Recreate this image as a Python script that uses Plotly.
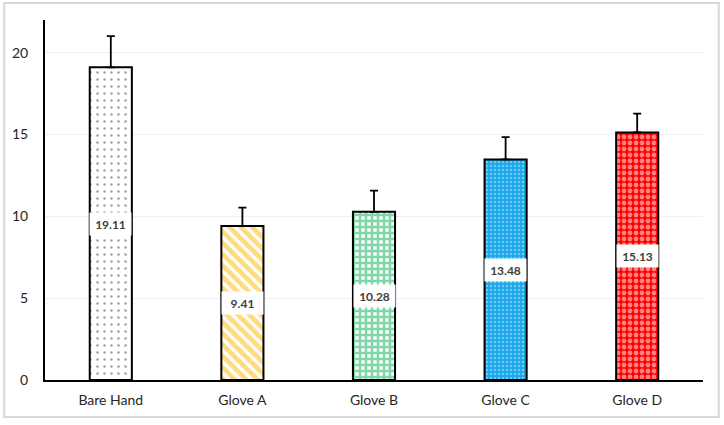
"""Bar chart with error bars and patterned fills"""
import plotly.graph_objects as go

categories = ['Bare Hand', 'Glove A', 'Glove B', 'Glove C', 'Glove D']
means = [19.11, 9.41, 10.28, 13.48, 15.13]
errors = [1.9, 1.12, 1.29, 1.36, 1.15]
labels = ['19.11', '9.41', '10.28', '13.48', '15.13']

# fill style per bar (pattern shape, fg colour, bg colour, size, solidity)
patterns = [
    dict(shape='.', fgcolor='#404040', bgcolor='white', size=7, solidity=0.1),
    dict(shape='\\', fgcolor='#FFB800', bgcolor='white', size=8, solidity=0.6),
    dict(shape='+', fgcolor='#00B050', bgcolor='white', size=6, solidity=0.65),
    dict(shape='.', fgcolor='#c8ecff', bgcolor='#1AA7EC', size=4, solidity=0.3),
    dict(shape='.', fgcolor='white', bgcolor='#FF0000', size=6, solidity=0.5),
]

fig = go.Figure()

for cat, m, e, p in zip(categories, means, errors, patterns):
    fig.add_trace(go.Bar(
        x=[cat], y=[m],
        marker=dict(color=p['bgcolor'],
                    line=dict(color='black', width=2),
                    pattern=dict(shape=p['shape'], fgcolor=p['fgcolor'],
                                 bgcolor=p['bgcolor'], size=p['size'],
                                 solidity=p['solidity'], fillmode='overlay')),
        error_y=dict(type='data', symmetric=False, array=[e], arrayminus=[0],
                     color='black', thickness=1.8, width=4),
        showlegend=False,
    ))

# value labels in white boxes at the middle of each bar
for cat, m, lab in zip(categories, means, labels):
    fig.add_annotation(
        x=cat, y=m / 2, text=f"<b>{lab}</b>", showarrow=False,
        font=dict(size=12, color='#404040', family='Lato'),
        bgcolor='white', width=39, height=20, borderpad=1,
    )

# light frame around the whole picture
fig.add_shape(type='rect', xref='paper', yref='paper',
              x0=-0.062, x1=1.024, y0=-0.103, y1=1.047,
              line=dict(color='#d9d9d9', width=2))

fig.update_layout(
    width=724, height=425,
    margin=dict(l=45, r=21, t=20, b=45),
    plot_bgcolor='white', paper_bgcolor='white',
    bargap=0.68,
    font=dict(family='Lato', size=14, color='#262626'),
)
fig.update_xaxes(showline=True, linecolor='black', linewidth=2,
                 ticks='', showgrid=False, ticklabelstandoff=6)
fig.update_yaxes(range=[0, 22], tickvals=[0, 5, 10, 15, 20],
                 showline=True, linecolor='black', linewidth=2,
                 showgrid=True, gridcolor='#efefef', gridwidth=1,
                 zeroline=False, ticks='', ticklabelstandoff=12)

fig.write_html("out.html", config={'displayModeBar': False},
               post_script="document.body.style.margin='0';")
